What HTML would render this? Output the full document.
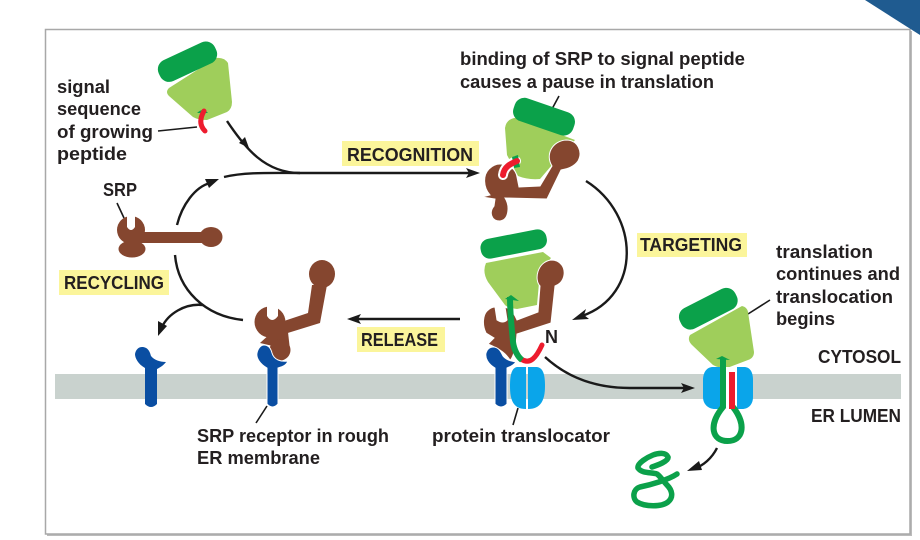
<!DOCTYPE html>
<html>
<head>
<meta charset="utf-8">
<style>
html,body{margin:0;padding:0;background:#fff;width:920px;height:540px;overflow:hidden}
svg{display:block;filter:blur(.35px)}
text{font-family:"Liberation Sans",sans-serif;font-weight:700;font-size:18.5px;fill:#231f20}
.l{fill:none;stroke:#1a1a1a;stroke-width:1.6}
.c{fill:none;stroke:#1a1a1a;stroke-width:2.4;stroke-linecap:butt}
.h{fill:#1a1a1a}
.y{fill:#fbf59b}
.b{fill:#85462f}
.lg{fill:#9fce5b}
.dg{fill:#0ba14a}
.gs{fill:none;stroke:#0ba14a}
.bl{fill:#0a4ea2}
.t{fill:#0aa5ea}
</style>
</head>
<body>
<svg width="920" height="540" viewBox="0 0 920 540" xmlns="http://www.w3.org/2000/svg">
<rect x="47" y="31" width="865" height="505" fill="#bbb"/>
<rect x="45.5" y="29.5" width="864.5" height="504.5" fill="#fff" stroke="#a8a8a8" stroke-width="1.5"/>
<polygon points="865,0 920,35 920,0" fill="#1f5b90"/>

<!-- membrane -->
<rect x="55" y="374" width="846" height="25" fill="#c9d2ce"/>

<!-- connectors -->
<path class="c" d="M227,121 C245,148 265,173 300,173"/>
<path class="c" d="M224,177 C245,172 270,173 300,173 L470,173"/>
<polygon class="h" points="480,173 466,168 469,173 466,178"/>
<polygon class="h" points="249,148 239,143 245,137"/>
<path class="c" d="M177,225 C182,205 195,187 210,183"/>
<polygon class="h" points="219,179 205,179 209,188"/>
<path class="c" d="M586,181 C640,215 642,295 582,316"/>
<polygon class="h" points="572,320 586,309 584,315 589,319"/>
<path class="c" d="M460,319 L356,319"/>
<polygon class="h" points="347,319 361,314 358,319 361,324"/>
<path class="c" d="M175,255 C178,290 205,316 243,320"/>
<path class="c" d="M203,305 C185,303 168,314 162,327"/>
<polygon class="h" points="158,336 158,321 167,326"/>
<path class="c" d="M545,357 C570,380 600,388 630,388 L686,388"/>
<polygon class="h" points="695,388 681,383 684,388 681,393"/>
<path class="c" d="M717,448 C712,458 703,466 695,468"/>
<polygon class="h" points="687,471 699,461 702,470"/>

<!-- leader lines -->
<path class="l" d="M158,131 L197,127"/>
<path class="l" d="M117,203 L124,218"/>
<path class="l" d="M559,96 L552,109"/>
<path class="l" d="M267,406 L256,423"/>
<path class="l" d="M518,408 L513,425"/>
<path class="l" d="M770,300 L748,314"/>

<!-- top ribosome -->
<path class="lg" d="M216,58 Q224,57 228,63 L232,102 Q232,109 227,112 L207,120 Q198,120 193,117 L169,96 Q165,92 169,88 Z"/>
<rect class="dg" x="156.5" y="50.2" width="62" height="23" rx="10" transform="rotate(-25 187.5 61.7)"/>
<path d="M197,113 Q203,107 208,113 Z" fill="#0ba14a"/>
<path fill="none" stroke="#ed1c2e" stroke-width="5" stroke-linecap="round" d="M204,111 C200,118 199,125 205,131"/>

<!-- SRP left -->
<circle class="b" cx="131" cy="230" r="14"/>
<ellipse class="b" cx="132" cy="249" rx="13.5" ry="8.5"/>
<rect class="b" x="130" y="232" width="78" height="11"/>
<ellipse class="b" cx="211" cy="237" rx="11.5" ry="10"/>
<path d="M127,214 L127,227 Q131,233 135,227 L135,214 Z" fill="#fff"/>

<!-- top-right ribosome + SRP -->
<path class="lg" d="M514,118 Q506,120 505,128 L507,155 L518,176 Q528,180 540,179 L552,165 L575,140 L517,118 Z"/>
<rect class="dg" x="512.5" y="104.7" width="63" height="24" rx="10" transform="rotate(19 544 116.7)"/>
<path fill="#85462f" stroke="#fff" stroke-width="1" d="M500,164 C510,164 516,170 517,177 L519,187 L540,186 L552,166 C545,155 552,141 566,140 C578,140 583,152 578,161 C573,168 565,169 561,170 L547,199 L505,198 C510,206 509,220 500,221 C491,221 489,212 494,206 L495,199 L482,197 L490,195 C483,187 483,175 489,169 C493,165 497,164 500,164 Z"/>
<path fill="none" stroke="#fff" stroke-width="10" stroke-linecap="round" d="M503,175 C504,167 510,164 516,161"/>
<path d="M512,157 L518,155 L520,167 L514,168 Z" fill="#0ba14a"/>
<path fill="none" stroke="#ed1c2e" stroke-width="6" stroke-linecap="round" d="M503,175 C504,167 510,164 517,161"/>

<!-- middle ribosome -->
<path class="lg" d="M486,263 L543,252 L551,258 L540,272 L537,305 L517,309 Q508,308 505,305 L488,282 Q482,272 486,263 Z"/>
<rect class="dg" x="480.2" y="234" width="67" height="20" rx="9" transform="rotate(-11 513.7 244)"/>
<!-- middle SRP -->
<path fill="#85462f" stroke="#fff" stroke-width="1" d="M551,260 C561,260 565,268 564,275 C563,282 558,285 555,286 L551,323 L517,334 L516,345 C514,355 511,360 510,360 C506,354 502,350 488,344 L490,342 L494,338 L486,333 C482,325 483,315 487,311 C490,308 493,307 495,307 L497,320 Q503,324 507,320 L505,307 C511,309 515,315 517,320 L538,312 L540,286 C534,280 537,262 551,260 Z"/>
<!-- translocator -->
<path class="t" d="M526,367 L517,367 C512,368 510,374 510,386 C510,400 513,409 526,409 Z"/>
<path class="t" d="M528,367 L537,367 C543,368 545,374 545,386 C545,400 541,409 528,409 Z"/>
<!-- receptor -->
<path class="bl" stroke="#fff" stroke-width="1" d="M493,347 C499,347 501,352 503,356 C506,360 511,361 516,362 C513,366 509,367 507,368 L507,404 Q501,410 495,404 L495,368 C488,364 485,358 486,353 C487,349 490,347 493,347 Z"/>
<path fill="none" stroke="#ed1c2e" stroke-width="5" stroke-linecap="round" d="M521,359 C530,365 536,358 542,345"/>
<path fill="none" stroke="#0ba14a" stroke-width="6" d="M510,297 C510,315 512,330 513,342 C514,350 518,357 522,360"/>
<polygon points="505,299 511,295 519,301" fill="#0ba14a"/>

<!-- right ribosome -->
<path class="lg" d="M690,335 L742,306 Q747,307 748,312 L754,352 Q754,358 748,360 L727,368 Q718,368 713,365 L692,345 Q687,340 690,335 Z"/>
<rect class="dg" x="677.3" y="297.2" width="62" height="23" rx="10" transform="rotate(-27 708.3 308.7)"/>
<rect x="720" y="367" width="17" height="42" fill="#fff"/>
<path class="t" d="M720,367 L713,367 C707,367 703,372 703,380 L703,397 C703,404 708,409 715,409 L720,409 Z"/>
<path class="t" d="M737,367 L744,367 C750,367 753,372 753,380 L753,397 C753,404 749,409 742,409 L737,409 Z"/>
<path class="gs" stroke-width="6" d="M723,358 L723,407 C708,425 712,441 727.5,441 C743,441 747,425 733,407"/>
<polygon points="716,359 722,356 730,360" fill="#0ba14a"/>
<rect x="729" y="372" width="6" height="37" fill="#ed1c2e"/>
<path class="gs" stroke-width="5.5" stroke-linecap="round" d="M677,474 C668,480 650,485 640,487 C633,489 632,498 637,502 C645,507 662,507 668,502 C674,497 672,490 667,485 C663,481 661,477 657,474 C652,472 642,474 638,468 C637,463 648,457 653,455 C658,453 666,452 668,457 C669,461 658,465 652,467"/>

<!-- release SRP + receptor -->
<ellipse class="b" cx="322" cy="274" rx="13" ry="14"/>
<polygon class="b" points="312,285 308,313 278,323 278,336 320,323 327,285"/>
<circle class="b" cx="270" cy="322" r="15.5"/>
<path d="M267,304 L267,316 Q272,324 278,316 L278,304 Z" fill="#fff"/>
<polygon class="b" points="272,332 288,332 290,350 260,343"/>
<circle class="b" cx="280" cy="350" r="10.5"/>
<path class="bl" stroke="#fff" stroke-width="1" d="M264,345 C269,345 271,349 272,353 C274,360 281,362 288,361 C286,366 281,367 278,368 L278,404 Q272.5,410 267,404 L267,368 C260,364 256,358 257,353 C258,348 261,345 264,345 Z"/>
<!-- free receptor -->
<path class="bl" d="M142,347 C148,347 150,352 151,356 C154,360 160,362 166,362 C163,366 159,368 157,369 L157,404 Q151,410 145,404 L145,368 C138,364 135,358 135,354 C136,349 139,347 142,347 Z"/>

<!-- yellow label boxes -->
<rect class="y" x="342" y="141" width="137" height="25"/>
<rect class="y" x="637" y="233" width="110" height="24"/>
<rect class="y" x="59" y="270" width="110" height="25"/>
<rect class="y" x="357" y="327" width="88" height="25"/>

<!-- text -->
<text x="57" y="93" textLength="53" lengthAdjust="spacingAndGlyphs">signal</text>
<text x="57" y="115" textLength="84" lengthAdjust="spacingAndGlyphs">sequence</text>
<text x="57" y="138" textLength="96" lengthAdjust="spacingAndGlyphs">of growing</text>
<text x="57" y="160" textLength="70" lengthAdjust="spacingAndGlyphs">peptide</text>
<text x="103" y="196" textLength="34" lengthAdjust="spacingAndGlyphs">SRP</text>
<text x="460" y="65" textLength="285" lengthAdjust="spacingAndGlyphs">binding of SRP to signal peptide</text>
<text x="460" y="88" textLength="254" lengthAdjust="spacingAndGlyphs">causes a pause in translation</text>
<text x="776" y="258" textLength="97" lengthAdjust="spacingAndGlyphs">translation</text>
<text x="776" y="280" textLength="124" lengthAdjust="spacingAndGlyphs">continues and</text>
<text x="776" y="303" textLength="117" lengthAdjust="spacingAndGlyphs">translocation</text>
<text x="776" y="325" textLength="59" lengthAdjust="spacingAndGlyphs">begins</text>
<text x="818" y="363" textLength="83" lengthAdjust="spacingAndGlyphs">CYTOSOL</text>
<text x="811" y="422" textLength="90" lengthAdjust="spacingAndGlyphs">ER LUMEN</text>
<text x="197" y="442" textLength="192" lengthAdjust="spacingAndGlyphs">SRP receptor in rough</text>
<text x="197" y="464" textLength="123" lengthAdjust="spacingAndGlyphs">ER membrane</text>
<text x="432" y="442" textLength="178" lengthAdjust="spacingAndGlyphs">protein translocator</text>
<text x="347" y="161" textLength="126" lengthAdjust="spacingAndGlyphs">RECOGNITION</text>
<text x="640" y="251" textLength="102" lengthAdjust="spacingAndGlyphs">TARGETING</text>
<text x="64" y="289" textLength="100" lengthAdjust="spacingAndGlyphs">RECYCLING</text>
<text x="361" y="346" textLength="77" lengthAdjust="spacingAndGlyphs">RELEASE</text>
<text x="545" y="343" textLength="13" lengthAdjust="spacingAndGlyphs">N</text>
</svg>
</body>
</html>
